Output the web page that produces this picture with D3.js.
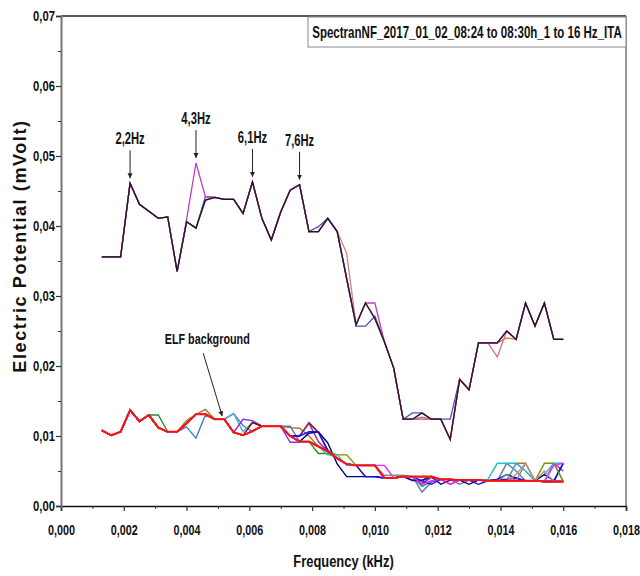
<!DOCTYPE html>
<html>
<head>
<meta charset="utf-8">
<script src="https://cdn.jsdelivr.net/npm/d3@7"></script>
<style>
  html, body { margin: 0; padding: 0; background: #fff; }
  svg { display: block; }
  .narrow { font-family: "Liberation Sans", Arial, sans-serif; font-weight: bold; }
</style>
</head>
<body>
<div id="chart"></div>
<script>
// frequency bins (kHz)
const freqKHz = [0.0013,0.0016,0.0019,0.0022,0.0025,0.0028,0.0031,0.0034,0.0037,0.0040,
  0.0043,0.0046,0.0049,0.0052,0.0055,0.0058,0.0061,0.0064,0.0067,0.0070,
  0.0073,0.0076,0.0079,0.0082,0.0085,0.0088,0.0091,0.0094,0.0097,0.0100,
  0.0103,0.0106,0.0109,0.0112,0.0115,0.0118,0.0121,0.0124,0.0127,0.0130,
  0.0133,0.0136,0.0139,0.0142,0.0145,0.0148,0.0151,0.0154,0.0157,0.0160];

// upper group (signal spectra)
const upMagenta = [0.0356,0.0356,0.0356,0.0461,0.0431,0.0421,0.0411,0.0413,0.0335,0.0409,
  0.0490,0.0442,0.0441,0.0438,0.0438,0.0418,0.0463,0.0411,0.0380,0.0420,
  0.0451,0.0459,0.0392,0.0392,0.0411,0.0392,0.0325,0.0259,0.0290,0.0290,
  0.0235,0.0197,0.0124,0.0124,0.0124,0.0124,0.0124,0.0095,0.0181,0.0166,
  0.0233,0.0233,0.0233,0.0250,0.0238,0.0290,0.0257,0.0290,0.0238,0.0238];
const upSlate = [0.0356,0.0356,0.0356,0.0461,0.0431,0.0421,0.0411,0.0413,0.0335,0.0406,
  0.0397,0.0442,0.0441,0.0438,0.0438,0.0418,0.0463,0.0411,0.0380,0.0420,
  0.0451,0.0459,0.0392,0.0399,0.0411,0.0392,0.0325,0.0257,0.0257,0.0271,
  0.0235,0.0197,0.0124,0.0133,0.0133,0.0124,0.0124,0.0124,0.0181,0.0166,
  0.0233,0.0233,0.0233,0.0250,0.0238,0.0290,0.0257,0.0290,0.0238,0.0238];
const upRosy = [0.0356,0.0356,0.0356,0.0461,0.0431,0.0421,0.0411,0.0413,0.0335,0.0406,
  0.0397,0.0437,0.0441,0.0438,0.0438,0.0418,0.0463,0.0411,0.0380,0.0420,
  0.0451,0.0459,0.0392,0.0392,0.0411,0.0392,0.0361,0.0259,0.0290,0.0268,
  0.0235,0.0197,0.0124,0.0124,0.0133,0.0124,0.0124,0.0095,0.0181,0.0166,
  0.0233,0.0233,0.0233,0.0250,0.0238,0.0290,0.0257,0.0290,0.0238,0.0238];
const upPink = [0.0356,0.0356,0.0356,0.0461,0.0431,0.0421,0.0411,0.0413,0.0335,0.0406,
  0.0397,0.0437,0.0441,0.0438,0.0438,0.0418,0.0463,0.0411,0.0380,0.0420,
  0.0451,0.0459,0.0392,0.0392,0.0411,0.0392,0.0325,0.0259,0.0290,0.0268,
  0.0235,0.0197,0.0124,0.0124,0.0133,0.0124,0.0124,0.0095,0.0181,0.0166,
  0.0233,0.0233,0.0213,0.0250,0.0238,0.0290,0.0257,0.0290,0.0238,0.0238];
const upBrown = [0.0356,0.0356,0.0356,0.0461,0.0431,0.0421,0.0411,0.0413,0.0335,0.0406,
  0.0397,0.0437,0.0441,0.0438,0.0438,0.0418,0.0463,0.0411,0.0380,0.0420,
  0.0451,0.0459,0.0392,0.0392,0.0411,0.0392,0.0325,0.0259,0.0290,0.0268,
  0.0235,0.0197,0.0124,0.0124,0.0127,0.0124,0.0124,0.0095,0.0181,0.0166,
  0.0233,0.0233,0.0233,0.0240,0.0238,0.0290,0.0257,0.0290,0.0238,0.0238];
const upBlack = [0.0356,0.0356,0.0356,0.0461,0.0431,0.0421,0.0411,0.0413,0.0335,0.0406,
  0.0397,0.0437,0.0441,0.0438,0.0438,0.0418,0.0463,0.0411,0.0380,0.0420,
  0.0451,0.0459,0.0392,0.0392,0.0411,0.0392,0.0325,0.0259,0.0290,0.0268,
  0.0235,0.0197,0.0124,0.0124,0.0133,0.0124,0.0124,0.0095,0.0181,0.0166,
  0.0233,0.0233,0.0233,0.0250,0.0238,0.0290,0.0257,0.0290,0.0238,0.0238];

// lower group (ELF background spectra)
const lowGreen = [0.0108,0.0101,0.0106,0.0137,0.0121,0.0130,0.0130,0.0106,0.0106,0.0118,
  0.0131,0.0131,0.0124,0.0124,0.0105,0.0101,0.0107,0.0114,0.0114,0.0114,
  0.0100,0.0092,0.0092,0.0075,0.0075,0.0068,0.0060,0.0058,0.0058,0.0058,
  0.0040,0.0040,0.0042,0.0042,0.0028,0.0035,0.0038,0.0038,0.0037,0.0037,
  0.0037,0.0036,0.0036,0.0036,0.0036,0.0036,0.0036,0.0035,0.0035,0.0035];
const lowBrown = [0.0108,0.0101,0.0106,0.0137,0.0121,0.0130,0.0112,0.0106,0.0106,0.0122,
  0.0131,0.0138,0.0124,0.0124,0.0105,0.0101,0.0107,0.0114,0.0114,0.0114,
  0.0112,0.0111,0.0100,0.0085,0.0078,0.0068,0.0060,0.0058,0.0058,0.0058,
  0.0040,0.0040,0.0042,0.0042,0.0042,0.0042,0.0038,0.0038,0.0037,0.0037,
  0.0037,0.0036,0.0036,0.0036,0.0061,0.0061,0.0036,0.0035,0.0035,0.0035];
const lowSteel = [0.0108,0.0101,0.0106,0.0137,0.0121,0.0130,0.0112,0.0106,0.0106,0.0113,
  0.0097,0.0130,0.0124,0.0124,0.0132,0.0115,0.0106,0.0114,0.0114,0.0114,
  0.0114,0.0092,0.0092,0.0085,0.0078,0.0068,0.0060,0.0058,0.0058,0.0058,
  0.0040,0.0040,0.0042,0.0042,0.0020,0.0034,0.0038,0.0038,0.0031,0.0037,
  0.0037,0.0036,0.0036,0.0061,0.0050,0.0036,0.0036,0.0035,0.0035,0.0035];
const lowSky = [0.0108,0.0101,0.0106,0.0137,0.0121,0.0130,0.0112,0.0106,0.0106,0.0118,
  0.0131,0.0131,0.0124,0.0124,0.0132,0.0106,0.0120,0.0114,0.0114,0.0114,
  0.0100,0.0092,0.0092,0.0085,0.0078,0.0068,0.0060,0.0058,0.0058,0.0058,
  0.0040,0.0040,0.0042,0.0042,0.0033,0.0040,0.0038,0.0038,0.0037,0.0037,
  0.0037,0.0036,0.0036,0.0036,0.0061,0.0050,0.0036,0.0045,0.0061,0.0036];
const lowPurple = [0.0108,0.0101,0.0106,0.0137,0.0121,0.0130,0.0112,0.0106,0.0106,0.0118,
  0.0131,0.0131,0.0124,0.0124,0.0105,0.0124,0.0122,0.0114,0.0114,0.0114,
  0.0091,0.0091,0.0092,0.0085,0.0078,0.0068,0.0060,0.0058,0.0058,0.0058,
  0.0040,0.0040,0.0042,0.0036,0.0036,0.0042,0.0038,0.0031,0.0037,0.0037,
  0.0037,0.0036,0.0036,0.0036,0.0036,0.0036,0.0036,0.0035,0.0035,0.0035];
const lowMaroon = [0.0108,0.0101,0.0106,0.0137,0.0121,0.0130,0.0112,0.0106,0.0106,0.0118,
  0.0131,0.0131,0.0124,0.0124,0.0105,0.0101,0.0119,0.0114,0.0114,0.0114,
  0.0100,0.0100,0.0119,0.0105,0.0080,0.0068,0.0060,0.0058,0.0058,0.0058,
  0.0040,0.0040,0.0042,0.0042,0.0042,0.0042,0.0038,0.0038,0.0037,0.0037,
  0.0037,0.0036,0.0036,0.0036,0.0036,0.0036,0.0036,0.0035,0.0035,0.0035];
const lowViolet = [0.0108,0.0101,0.0106,0.0137,0.0121,0.0130,0.0112,0.0106,0.0106,0.0118,
  0.0131,0.0131,0.0124,0.0124,0.0105,0.0101,0.0107,0.0114,0.0114,0.0114,
  0.0100,0.0100,0.0118,0.0092,0.0078,0.0068,0.0060,0.0058,0.0042,0.0042,
  0.0040,0.0040,0.0042,0.0042,0.0031,0.0042,0.0038,0.0038,0.0037,0.0037,
  0.0037,0.0036,0.0036,0.0036,0.0036,0.0036,0.0036,0.0035,0.0061,0.0050];
const lowNavy = [0.0108,0.0101,0.0106,0.0137,0.0121,0.0130,0.0112,0.0106,0.0106,0.0118,
  0.0131,0.0131,0.0124,0.0124,0.0105,0.0101,0.0107,0.0114,0.0114,0.0114,
  0.0100,0.0092,0.0104,0.0106,0.0090,0.0060,0.0042,0.0042,0.0042,0.0042,
  0.0040,0.0040,0.0042,0.0037,0.0037,0.0042,0.0031,0.0037,0.0037,0.0031,
  0.0037,0.0036,0.0038,0.0045,0.0040,0.0036,0.0036,0.0045,0.0036,0.0061];
const lowBlue = [0.0108,0.0101,0.0106,0.0137,0.0121,0.0130,0.0112,0.0106,0.0106,0.0118,
  0.0131,0.0131,0.0124,0.0124,0.0105,0.0101,0.0107,0.0114,0.0114,0.0114,
  0.0100,0.0100,0.0106,0.0106,0.0078,0.0068,0.0060,0.0058,0.0042,0.0042,
  0.0040,0.0040,0.0042,0.0042,0.0036,0.0031,0.0038,0.0038,0.0037,0.0037,
  0.0031,0.0036,0.0038,0.0038,0.0040,0.0036,0.0036,0.0035,0.0035,0.0061];
const lowOlive = [0.0108,0.0101,0.0106,0.0137,0.0121,0.0130,0.0112,0.0106,0.0106,0.0118,
  0.0131,0.0131,0.0124,0.0124,0.0105,0.0101,0.0107,0.0114,0.0114,0.0114,
  0.0100,0.0092,0.0092,0.0085,0.0078,0.0073,0.0073,0.0058,0.0058,0.0058,
  0.0040,0.0040,0.0042,0.0042,0.0042,0.0042,0.0038,0.0038,0.0037,0.0037,
  0.0037,0.0036,0.0036,0.0036,0.0036,0.0036,0.0036,0.0061,0.0061,0.0035];
const lowCyan = [0.0108,0.0101,0.0106,0.0137,0.0121,0.0130,0.0112,0.0106,0.0106,0.0118,
  0.0131,0.0131,0.0124,0.0124,0.0105,0.0101,0.0107,0.0114,0.0114,0.0114,
  0.0100,0.0092,0.0092,0.0085,0.0073,0.0073,0.0058,0.0058,0.0058,0.0058,
  0.0040,0.0040,0.0042,0.0042,0.0042,0.0042,0.0038,0.0038,0.0037,0.0037,
  0.0037,0.0038,0.0061,0.0061,0.0061,0.0050,0.0036,0.0035,0.0061,0.0061];
const lowMagenta = [0.0108,0.0101,0.0106,0.0137,0.0121,0.0130,0.0112,0.0106,0.0106,0.0118,
  0.0131,0.0131,0.0124,0.0124,0.0105,0.0101,0.0107,0.0114,0.0114,0.0114,
  0.0100,0.0092,0.0092,0.0085,0.0078,0.0068,0.0060,0.0058,0.0058,0.0058,
  0.0058,0.0040,0.0042,0.0042,0.0031,0.0036,0.0038,0.0031,0.0037,0.0037,
  0.0037,0.0036,0.0036,0.0036,0.0036,0.0036,0.0036,0.0035,0.0058,0.0061];
const lowGray = [0.0108,0.0101,0.0106,0.0137,0.0121,0.0130,0.0112,0.0106,0.0106,0.0118,
  0.0131,0.0131,0.0124,0.0124,0.0105,0.0101,0.0107,0.0114,0.0114,0.0114,
  0.0100,0.0092,0.0092,0.0085,0.0078,0.0068,0.0060,0.0058,0.0058,0.0058,
  0.0044,0.0044,0.0044,0.0042,0.0042,0.0042,0.0038,0.0038,0.0037,0.0037,
  0.0037,0.0036,0.0036,0.0045,0.0036,0.0061,0.0036,0.0035,0.0035,0.0035];
const lowRosy = [0.0108,0.0101,0.0106,0.0137,0.0121,0.0130,0.0112,0.0106,0.0106,0.0118,
  0.0131,0.0131,0.0124,0.0124,0.0105,0.0101,0.0107,0.0114,0.0114,0.0114,
  0.0100,0.0092,0.0092,0.0085,0.0078,0.0068,0.0060,0.0058,0.0058,0.0058,
  0.0040,0.0040,0.0042,0.0042,0.0042,0.0042,0.0038,0.0038,0.0037,0.0037,
  0.0037,0.0036,0.0036,0.0036,0.0045,0.0061,0.0036,0.0050,0.0035,0.0035];
const lowRed = [0.0108,0.0101,0.0106,0.0137,0.0121,0.0130,0.0112,0.0106,0.0106,0.0118,
  0.0131,0.0131,0.0124,0.0124,0.0105,0.0101,0.0107,0.0114,0.0114,0.0114,
  0.0100,0.0092,0.0092,0.0085,0.0078,0.0068,0.0060,0.0058,0.0058,0.0058,
  0.0040,0.0040,0.0042,0.0042,0.0042,0.0042,0.0038,0.0038,0.0037,0.0037,
  0.0037,0.0036,0.0036,0.0036,0.0036,0.0036,0.0036,0.0035,0.0035,0.0035];

// axis ticks
const xTicks = [0,0.002,0.004,0.006,0.008,0.010,0.012,0.014,0.016,0.018];
const xMinor = [0.001,0.003,0.005,0.007,0.009,0.011,0.013,0.015,0.017];
const yTicks = [0,0.01,0.02,0.03,0.04,0.05,0.06,0.07];
const yMinor = [0.005,0.015,0.025,0.035,0.045,0.055,0.065];

// peak annotations
const peakLabels = ["2,2Hz","4,3Hz","6,1Hz","7,6Hz"];
const peakFreq = [0.0022,0.0043,0.0061,0.0076];
const peakValue = [0.0461,0.0490,0.0463,0.0459];

const title = "SpectranNF_2017_01_02_08:24 to 08:30h_1 to 16 Hz_ITA";

const width = 640, height = 576;
const margin = { top: 16, right: 14, bottom: 70, left: 61 };

const svg = d3.select('#chart').append('svg')
  .attr('width', width)
  .attr('height', height);

const x = d3.scaleLinear().domain([0, 0.018]).range([margin.left, width - margin.right]);
const y = d3.scaleLinear().domain([0, 0.07]).range([height - margin.bottom, margin.top]);
const fmtX = v => d3.format('.3f')(v).replace('.', ',');
const fmtY = v => d3.format('.2f')(v).replace('.', ',');

// condensed bold label (narrow font look)
function narrowText(parent, px, py, str, size, squeeze) {
  return parent.append('text')
    .attr('class', 'narrow')
    .attr('transform', `translate(${px},${py}) scale(${squeeze},1)`)
    .attr('text-anchor', 'middle')
    .attr('font-size', size)
    .attr('fill', '#111')
    .text(str);
}

// frame (top + right)
svg.append('line')
  .attr('x1', x(0)).attr('x2', x(0.018)).attr('y1', y(0.07)).attr('y2', y(0.07))
  .attr('stroke', '#222').attr('stroke-width', 1.6);
svg.append('line')
  .attr('x1', x(0.018)).attr('x2', x(0.018)).attr('y1', y(0.07)).attr('y2', y(0))
  .attr('stroke', '#555').attr('stroke-width', 1.2);

// axes
const xAxis = svg.append('g')
  .attr('transform', `translate(0,${y(0)})`)
  .call(d3.axisBottom(x).tickValues(xTicks).tickFormat(fmtX).tickSize(5).tickPadding(13));
xAxis.select('.domain').attr('stroke', '#111').attr('stroke-width', 1.6);
xAxis.selectAll('.tick line').attr('stroke', '#333').attr('stroke-width', 1.2);
xAxis.selectAll('.tick text')
  .attr('class', 'narrow').attr('font-size', 15).attr('fill', '#111')
  .attr('transform', 'scale(0.72,1)');

svg.append('g')
  .attr('transform', `translate(0,${y(0)})`)
  .call(d3.axisBottom(x).tickValues(xMinor).tickFormat('').tickSize(3))
  .call(g => g.select('.domain').remove())
  .selectAll('.tick line').attr('stroke', '#333');

const yAxis = svg.append('g')
  .attr('transform', `translate(${x(0)},0)`)
  .call(d3.axisLeft(y).tickValues(yTicks).tickFormat(fmtY).tickSize(5).tickPadding(3));
yAxis.select('.domain').attr('stroke', '#777').attr('stroke-width', 2);
yAxis.selectAll('.tick line').attr('stroke', '#333').attr('stroke-width', 1.2);
yAxis.selectAll('.tick text')
  .attr('class', 'narrow').attr('font-size', 15).attr('fill', '#111')
  .attr('transform', 'scale(0.75,1)');

svg.append('g')
  .attr('transform', `translate(${x(0)},0)`)
  .call(d3.axisLeft(y).tickValues(yMinor).tickFormat('').tickSize(3))
  .call(g => g.select('.domain').remove())
  .selectAll('.tick line').attr('stroke', '#333');

// axis titles
narrowText(svg, (x(0) + x(0.018)) / 2, 567, 'Frequency (kHz)', 17, 0.76);

svg.append('text')
  .attr('transform', 'translate(26,246) rotate(-90)')
  .attr('text-anchor', 'middle')
  .style('font-family', '"Liberation Sans", Arial, sans-serif')
  .style('font-weight', 'bold')
  .style('letter-spacing', '1.6px')
  .attr('font-size', 18)
  .attr('fill', '#111')
  .text('Electric Potential (mVolt)');

// series
const line = d3.line()
  .x((d, i) => x(freqKHz[i]))
  .y(d => y(d));

const lowerSeries = [
  { values: lowGreen, color: '#2e8b2e' },
  { values: lowBrown, color: '#a87828' },
  { values: lowSteel, color: '#4f7fb0' },
  { values: lowSky, color: '#5aa8d0' },
  { values: lowPurple, color: '#8a2be2' },
  { values: lowMaroon, color: '#800000' },
  { values: lowViolet, color: '#9a2a9a' },
  { values: lowNavy, color: '#000080' },
  { values: lowBlue, color: '#1010f0' },
  { values: lowOlive, color: '#8c8c00' },
  { values: lowCyan, color: '#20c0cc' },
  { values: lowMagenta, color: '#ff20ff' },
  { values: lowGray, color: '#8a8a8a' },
  { values: lowRosy, color: '#c09090' },
];
const upperSeries = [
  { values: upRosy, color: '#c08888' },
  { values: upBrown, color: '#c08830' },
  { values: upPink, color: '#e060a0' },
  { values: upSlate, color: '#5050b0' },
  { values: upMagenta, color: '#c03cc0' },
];

svg.append('g').selectAll('path.low')
  .data(lowerSeries)
  .enter().append('path')
  .attr('class', 'low')
  .attr('d', d => line(d.values))
  .attr('fill', 'none')
  .attr('stroke', d => d.color)
  .attr('stroke-width', 1.4);

svg.append('path')
  .attr('d', line(lowRed))
  .attr('fill', 'none')
  .attr('stroke', '#ff1010')
  .attr('stroke-width', 2);

svg.append('g').selectAll('path.up')
  .data(upperSeries)
  .enter().append('path')
  .attr('class', 'up')
  .attr('d', d => line(d.values))
  .attr('fill', 'none')
  .attr('stroke', d => d.color)
  .attr('stroke-width', 1.3);

svg.append('path')
  .attr('d', line(upBlack))
  .attr('fill', 'none')
  .attr('stroke', '#1a1a1a')
  .attr('stroke-width', 1.2);

// arrowhead
svg.append('defs').append('marker')
  .attr('id', 'arrow')
  .attr('viewBox', '0 0 10 10')
  .attr('refX', 10).attr('refY', 5)
  .attr('markerWidth', 5).attr('markerHeight', 6)
  .attr('orient', 'auto')
  .append('path')
  .attr('d', 'M0,0 L10,5 L0,10 z')
  .attr('fill', '#222');

// peak labels
peakLabels.forEach((label, i) => {
  const px = x(peakFreq[i]);
  const py = y(peakValue[i]);
  svg.append('line')
    .attr('x1', px).attr('x2', px)
    .attr('y1', py - 33).attr('y2', py - 5)
    .attr('stroke', '#222').attr('stroke-width', 1)
    .attr('marker-end', 'url(#arrow)');
  narrowText(svg, px, py - 39, label, 16, 0.7);
});

// ELF background label
const ex = x(0.0052) - 2, ey = y(0.0124) - 3;
svg.append('line')
  .attr('x1', ex - 19).attr('y1', ey - 63)
  .attr('x2', ex).attr('y2', ey)
  .attr('stroke', '#222').attr('stroke-width', 1)
  .attr('marker-end', 'url(#arrow)');
narrowText(svg, ex - 15, ey - 72, 'ELF background', 15, 0.72);

// title box
const boxLeft = 308;
const box = svg.append('g');
box.append('rect')
  .attr('x', boxLeft).attr('y', 17)
  .attr('width', x(0.018) - boxLeft).attr('height', 30)
  .attr('fill', '#fff')
  .attr('stroke', '#888').attr('stroke-width', 1);
const titleText = box.append('text')
  .attr('class', 'narrow')
  .attr('text-anchor', 'middle')
  .attr('font-size', 16)
  .attr('fill', '#111')
  .text(title);
// fit the title inside the box
const fit = Math.min(1, (x(0.018) - boxLeft - 8) / titleText.node().getComputedTextLength());
titleText.attr('transform', `translate(${(boxLeft + x(0.018)) / 2},38) scale(${fit},1)`);
</script>
</body>
</html>
